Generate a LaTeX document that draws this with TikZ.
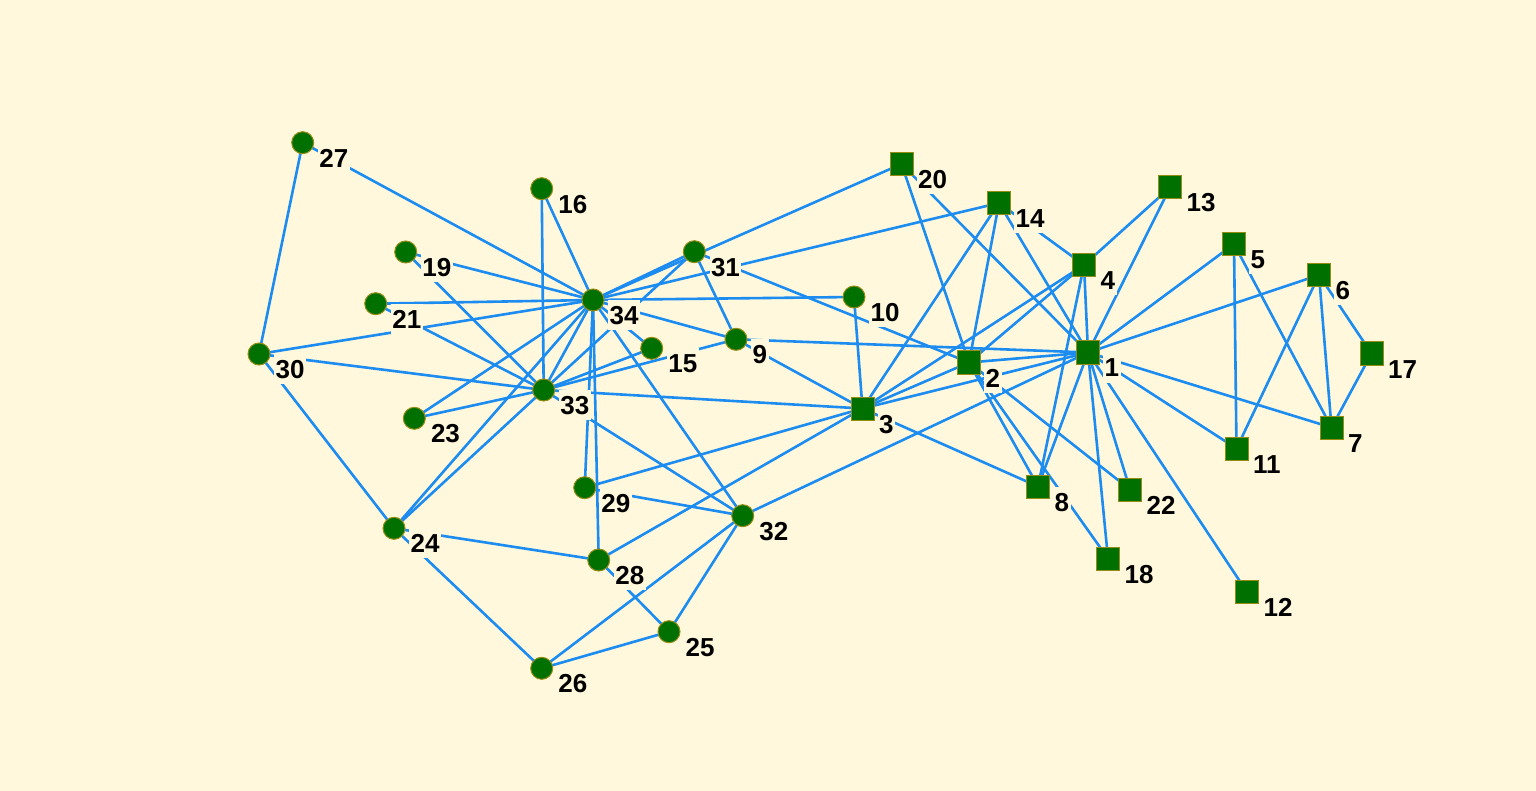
\documentclass[tikz,border=0pt]{standalone}
\usepackage{fontspec}
\setmainfont{Liberation Sans}
\pgfdeclarelayer{bglayer}
\pgfdeclarelayer{edgelayer}
\pgfsetlayers{bglayer,edgelayer,main}
\definecolor{bgc}{RGB}{255,248,220}
\definecolor{nodefill}{RGB}{0,112,0}
\definecolor{nodeborder}{RGB}{150,140,20}
\definecolor{edgec}{RGB}{28,140,240}
\tikzset{
  vbase/.style={fill=nodefill,draw=nodeborder,line width=1pt,inner sep=0pt},
  cnode/.style={vbase,circle,minimum size=22pt},
  snode/.style={vbase,rectangle,minimum size=23pt},
  vlabel/.style={fill=bgc,inner xsep=1.5pt,inner ysep=1.5pt,text height=23pt,text depth=4pt,
     font=\fontsize{26}{28}\selectfont\bfseries,anchor=base west},
  link/.style={draw=edgec,line width=2.6pt}
}
\newcommand{\vtx}[5]{% style, name, x, y, label
  \node[#1] (v#2) at (#3,#4) {};
  \node[vlabel] (l#2) at (#3+15,#4+24.5) {#5};
}
\begin{document}
\begin{tikzpicture}[x=1pt,y=-1pt]
\begin{pgfonlayer}{bglayer}
\fill[bgc] (0,0) rectangle (1536,791);
\end{pgfonlayer}
\useasboundingbox (0,0) rectangle (1536,791);
% square nodes
\vtx{snode}{1}{1088}{352.5}{1}
\vtx{snode}{2}{969}{362.5}{2}
\vtx{snode}{3}{862.5}{408.5}{3}
\vtx{snode}{4}{1084}{265}{4}
\vtx{snode}{5}{1234}{244}{5}
\vtx{snode}{6}{1319}{275}{6}
\vtx{snode}{7}{1331.5}{427.5}{7}
\vtx{snode}{8}{1038}{486.5}{8}
\vtx{snode}{11}{1236.5}{448.5}{11}
\vtx{snode}{12}{1247}{592}{12}
\vtx{snode}{13}{1170}{187.5}{13}
\vtx{snode}{14}{999}{203}{14}
\vtx{snode}{17}{1371.5}{353.5}{17}
\vtx{snode}{18}{1108}{558.5}{18}
\vtx{snode}{20}{901.5}{164}{20}
\vtx{snode}{22}{1130}{489.5}{22}
% circle nodes
\vtx{cnode}{9}{736}{339.3}{9}
\vtx{cnode}{10}{854}{297}{10}
\vtx{cnode}{15}{651.7}{348.3}{15}
\vtx{cnode}{16}{541.7}{188.7}{16}
\vtx{cnode}{19}{405.7}{252}{19}
\vtx{cnode}{21}{375.7}{303.7}{21}
\vtx{cnode}{23}{414.3}{418.3}{23}
\vtx{cnode}{24}{394}{528.3}{24}
\vtx{cnode}{25}{669}{631.7}{25}
\vtx{cnode}{26}{541.7}{668.3}{26}
\vtx{cnode}{27}{302.7}{142.7}{27}
\vtx{cnode}{28}{598.7}{560}{28}
\vtx{cnode}{29}{584.7}{487.7}{29}
\vtx{cnode}{30}{259}{354}{30}
\vtx{cnode}{31}{694.3}{251.7}{31}
\vtx{cnode}{32}{742.7}{515.7}{32}
\vtx{cnode}{33}{543.7}{390}{33}
\vtx{cnode}{34}{593}{300}{34}
\begin{pgfonlayer}{edgelayer}
\foreach \a/\b in {1/2,1/3,1/4,1/5,1/6,1/7,1/8,1/9,1/11,1/12,1/13,1/14,1/18,1/20,1/22,1/32,
  2/3,2/4,2/8,2/14,2/18,2/20,2/22,2/31,
  3/4,3/8,3/9,3/10,3/14,3/28,3/29,3/33,
  4/8,4/13,4/14,5/7,5/11,6/7,6/11,6/17,7/17,
  9/31,9/33,9/34,10/34,14/34,15/33,15/34,16/33,16/34,19/33,19/34,20/34,21/33,21/34,
  23/33,23/34,24/26,24/28,24/30,24/33,24/34,25/26,25/28,25/32,26/32,27/30,27/34,28/34,
  29/32,29/34,30/33,30/34,31/33,31/34,32/33,32/34,33/34}
  \draw[link] (v\a.center) -- (v\b.center);
\end{pgfonlayer}
\end{tikzpicture}
\end{document}
